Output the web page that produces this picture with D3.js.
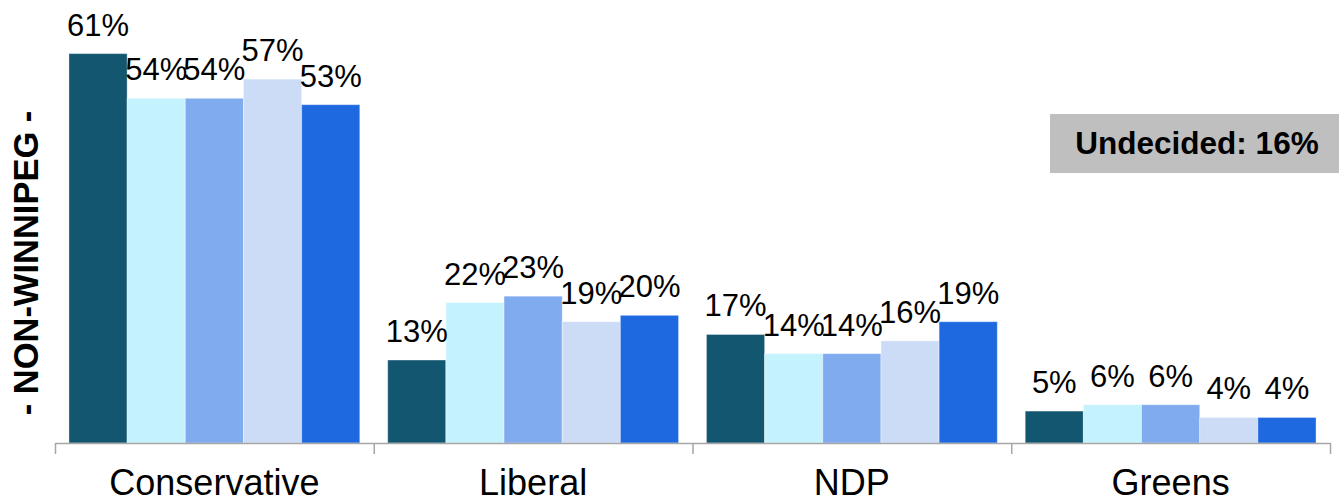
<!DOCTYPE html>
<html>
<head>
<meta charset="utf-8">
<script src="https://cdn.jsdelivr.net/npm/d3@7"></script>
<style>
  html, body { margin: 0; padding: 0; background: #ffffff; }
  svg { display: block; font-family: "Liberation Sans", Arial, sans-serif; }
</style>
</head>
<body>
<svg id="chart" width="1339" height="503"></svg>
<script>
const categories = ["Conservative", "Liberal", "NDP", "Greens"];
const seriesNames = ["Series 1", "Series 2", "Series 3", "Series 4", "Series 5"];
const seriesColors = ["#135670", "#C4F3FD", "#80ABEE", "#CCDCF6", "#1F69E0"];
const values = [
  [61, 13, 17, 5],
  [54, 22, 14, 6],
  [54, 23, 14, 6],
  [57, 19, 16, 4],
  [53, 20, 19, 4]
];
const yAxisTitle = "- NON-WINNIPEG -";
const noteText = "Undecided: 16%";

const svg = d3.select("#chart");
const left = 55, right = 1330, baseline = 443;

const x0 = d3.scaleBand().domain(categories).range([left, right]).paddingInner(0).paddingOuter(0);
const x1 = d3.scaleBand().domain(seriesNames).range([0, x0.bandwidth()]).paddingOuter(0.24).paddingInner(0);
const y = d3.scaleLinear().domain([0, 69.4]).range([baseline, 0]);

// bars
const groups = svg.append("g").selectAll("g")
  .data(categories)
  .join("g")
  .attr("transform", d => `translate(${x0(d)},0)`);

groups.selectAll("rect")
  .data((c, ci) => seriesNames.map((s, si) => ({ s, si, v: values[si][ci] })))
  .join("rect")
  .attr("x", d => x1(d.s))
  .attr("width", x1.bandwidth())
  .attr("y", d => y(d.v))
  .attr("height", d => baseline - y(d.v))
  .attr("fill", d => seriesColors[d.si])
  .attr("stroke", "rgba(255,255,255,0.35)")
  .attr("stroke-width", 1);

groups.selectAll("text")
  .data((c, ci) => seriesNames.map((s, si) => ({ s, si, v: values[si][ci] })))
  .join("text")
  .attr("x", d => x1(d.s) + x1.bandwidth() / 2)
  .attr("y", d => y(d.v) - 18)
  .attr("text-anchor", "middle")
  .attr("font-size", 31)
  .attr("fill", "#000")
  .text(d => d.v + "%");

// x axis with ticks at category boundaries
const boundaries = categories.map(c => x0(c)).concat([right]);
const xb = d3.scaleLinear().domain([left, right]).range([left, right]);
const axis = svg.append("g")
  .attr("transform", `translate(0,${baseline})`)
  .call(d3.axisBottom(xb).tickValues(boundaries).tickSize(11).tickSizeOuter(0).tickFormat(""));
axis.select(".domain").attr("stroke", "#A6A6A6").attr("stroke-width", 1.5);
axis.selectAll(".tick line").attr("stroke", "#A6A6A6").attr("stroke-width", 1.5);

svg.append("g").selectAll("text")
  .data(categories)
  .join("text")
  .attr("x", d => x0(d) + x0.bandwidth() / 2)
  .attr("y", 495)
  .attr("text-anchor", "middle")
  .attr("font-size", 36)
  .attr("fill", "#000")
  .text(d => d);

// y-axis title
svg.append("text")
  .attr("transform", "translate(38,263) rotate(-90)")
  .attr("text-anchor", "middle")
  .attr("font-size", 34.5)
  .attr("font-weight", "bold")
  .attr("fill", "#000")
  .text(yAxisTitle);

// undecided box
svg.append("rect")
  .attr("x", 1050).attr("y", 114)
  .attr("width", 295).attr("height", 59)
  .attr("fill", "#BFBFBF");
svg.append("text")
  .attr("x", 1197).attr("y", 154)
  .attr("text-anchor", "middle")
  .attr("font-size", 31.5)
  .attr("font-weight", "bold")
  .attr("fill", "#000")
  .text(noteText);
</script>
</body>
</html>
